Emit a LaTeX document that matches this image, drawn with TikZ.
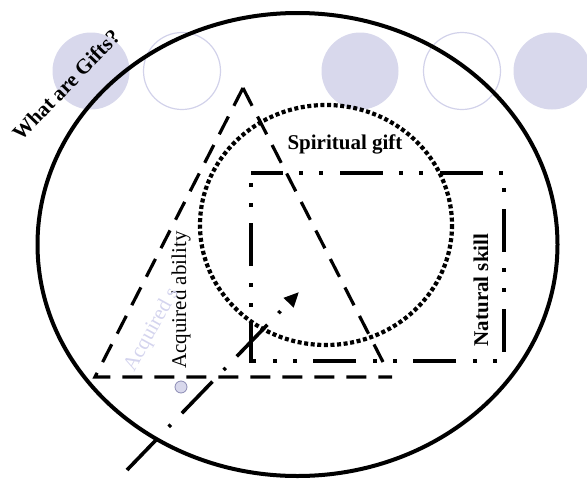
\documentclass[tikz,border=0pt]{standalone}
\usepackage{fontspec}
\setmainfont{Liberation Serif}
\usetikzlibrary{arrows.meta}
\definecolor{lav}{HTML}{D8D8EC}
\definecolor{lavline}{HTML}{D2D2EA}
\definecolor{lavtext}{HTML}{D4D4EE}
\definecolor{dotedge}{HTML}{8C8CB4}
\tikzset{
  deco/.style={circle, minimum size=77pt, inner sep=0pt},
  decofill/.style={deco, fill=lav},
  decoline/.style={deco, draw=lavline, line width=1.2pt},
  bigring/.style={line width=4pt},
  tridash/.style={line width=3.2pt, dash pattern=on 20pt off 12pt},
  spiritdots/.style={line width=4.2pt, dash pattern=on 4pt off 2.6pt},
  skillrect/.style={line width=3.6pt, dash pattern=on 43pt off 16pt on 4pt off 16pt on 4pt off 17pt, dash phase=11pt},
  arrowline/.style={line width=3.6pt, dash pattern=on 44pt off 16pt on 3pt off 16pt,
    -{Triangle[length=15pt,width=13pt]}},
  lbl/.style={font=\fontsize{21}{24}\selectfont, inner sep=0pt},
  blbl/.style={lbl, font=\fontsize{21}{24}\selectfont\bfseries},
}
\begin{document}
\begin{tikzpicture}[x=1pt,y=-1pt]
\useasboundingbox (0,0) rectangle (587,480);
% decorative circles
\node[decofill] (c1) at (91,71) {};
\node[decoline] (c2) at (182,71) {};
\node[decofill] (c3) at (360,71) {};
\node[decoline] (c4) at (462,71) {};
\node[decofill] (c5) at (552,71) {};
% big ellipse
\draw[bigring] (297.5,244.5) ellipse [x radius=260, y radius=231.5];
% title
\node[blbl, rotate=46] (title) at (66,85) {What are Gifts?};
% triangle (acquired ability)
\coordinate (apex) at (243,88);
\coordinate (tl) at (95,377);
\coordinate (tr) at (392,377);
\coordinate (rs) at (383,362);
\draw[tridash] (apex) -- (tl) -- (tr);
\draw[tridash] (apex) -- (rs);
% spiritual gift circle
\draw[spiritdots] (326,225) ellipse [x radius=126, y radius=120];
% natural skill rectangle
\coordinate (r1) at (251,173);
\coordinate (r2) at (504,173);
\coordinate (r3) at (504,361);
\coordinate (r4) at (251,361);
\draw[skillrect] (r1) -- (r2) -- (r3) -- (r4) -- cycle;
% arrow
\coordinate (astart) at (127,470);
\coordinate (aend) at (299,292);
\draw[arrowline] (astart) -- (aend);
% small circle
\node[circle, fill=lav, draw=dotedge, line width=0.8pt, minimum size=12pt, inner sep=0pt] (dot) at (181,387) {};
% labels
\node[blbl] (sg) at (345,144) {Spiritual gift};
\node[blbl, rotate=90] (ns) at (481,290) {Natural skill};
\node[lbl, rotate=90] (aa) at (181,300) {Acquired ability};
\node[lbl, rotate=61, text=lavtext] (as) at (152,330) {Acquired s};
\end{tikzpicture}
\end{document}
